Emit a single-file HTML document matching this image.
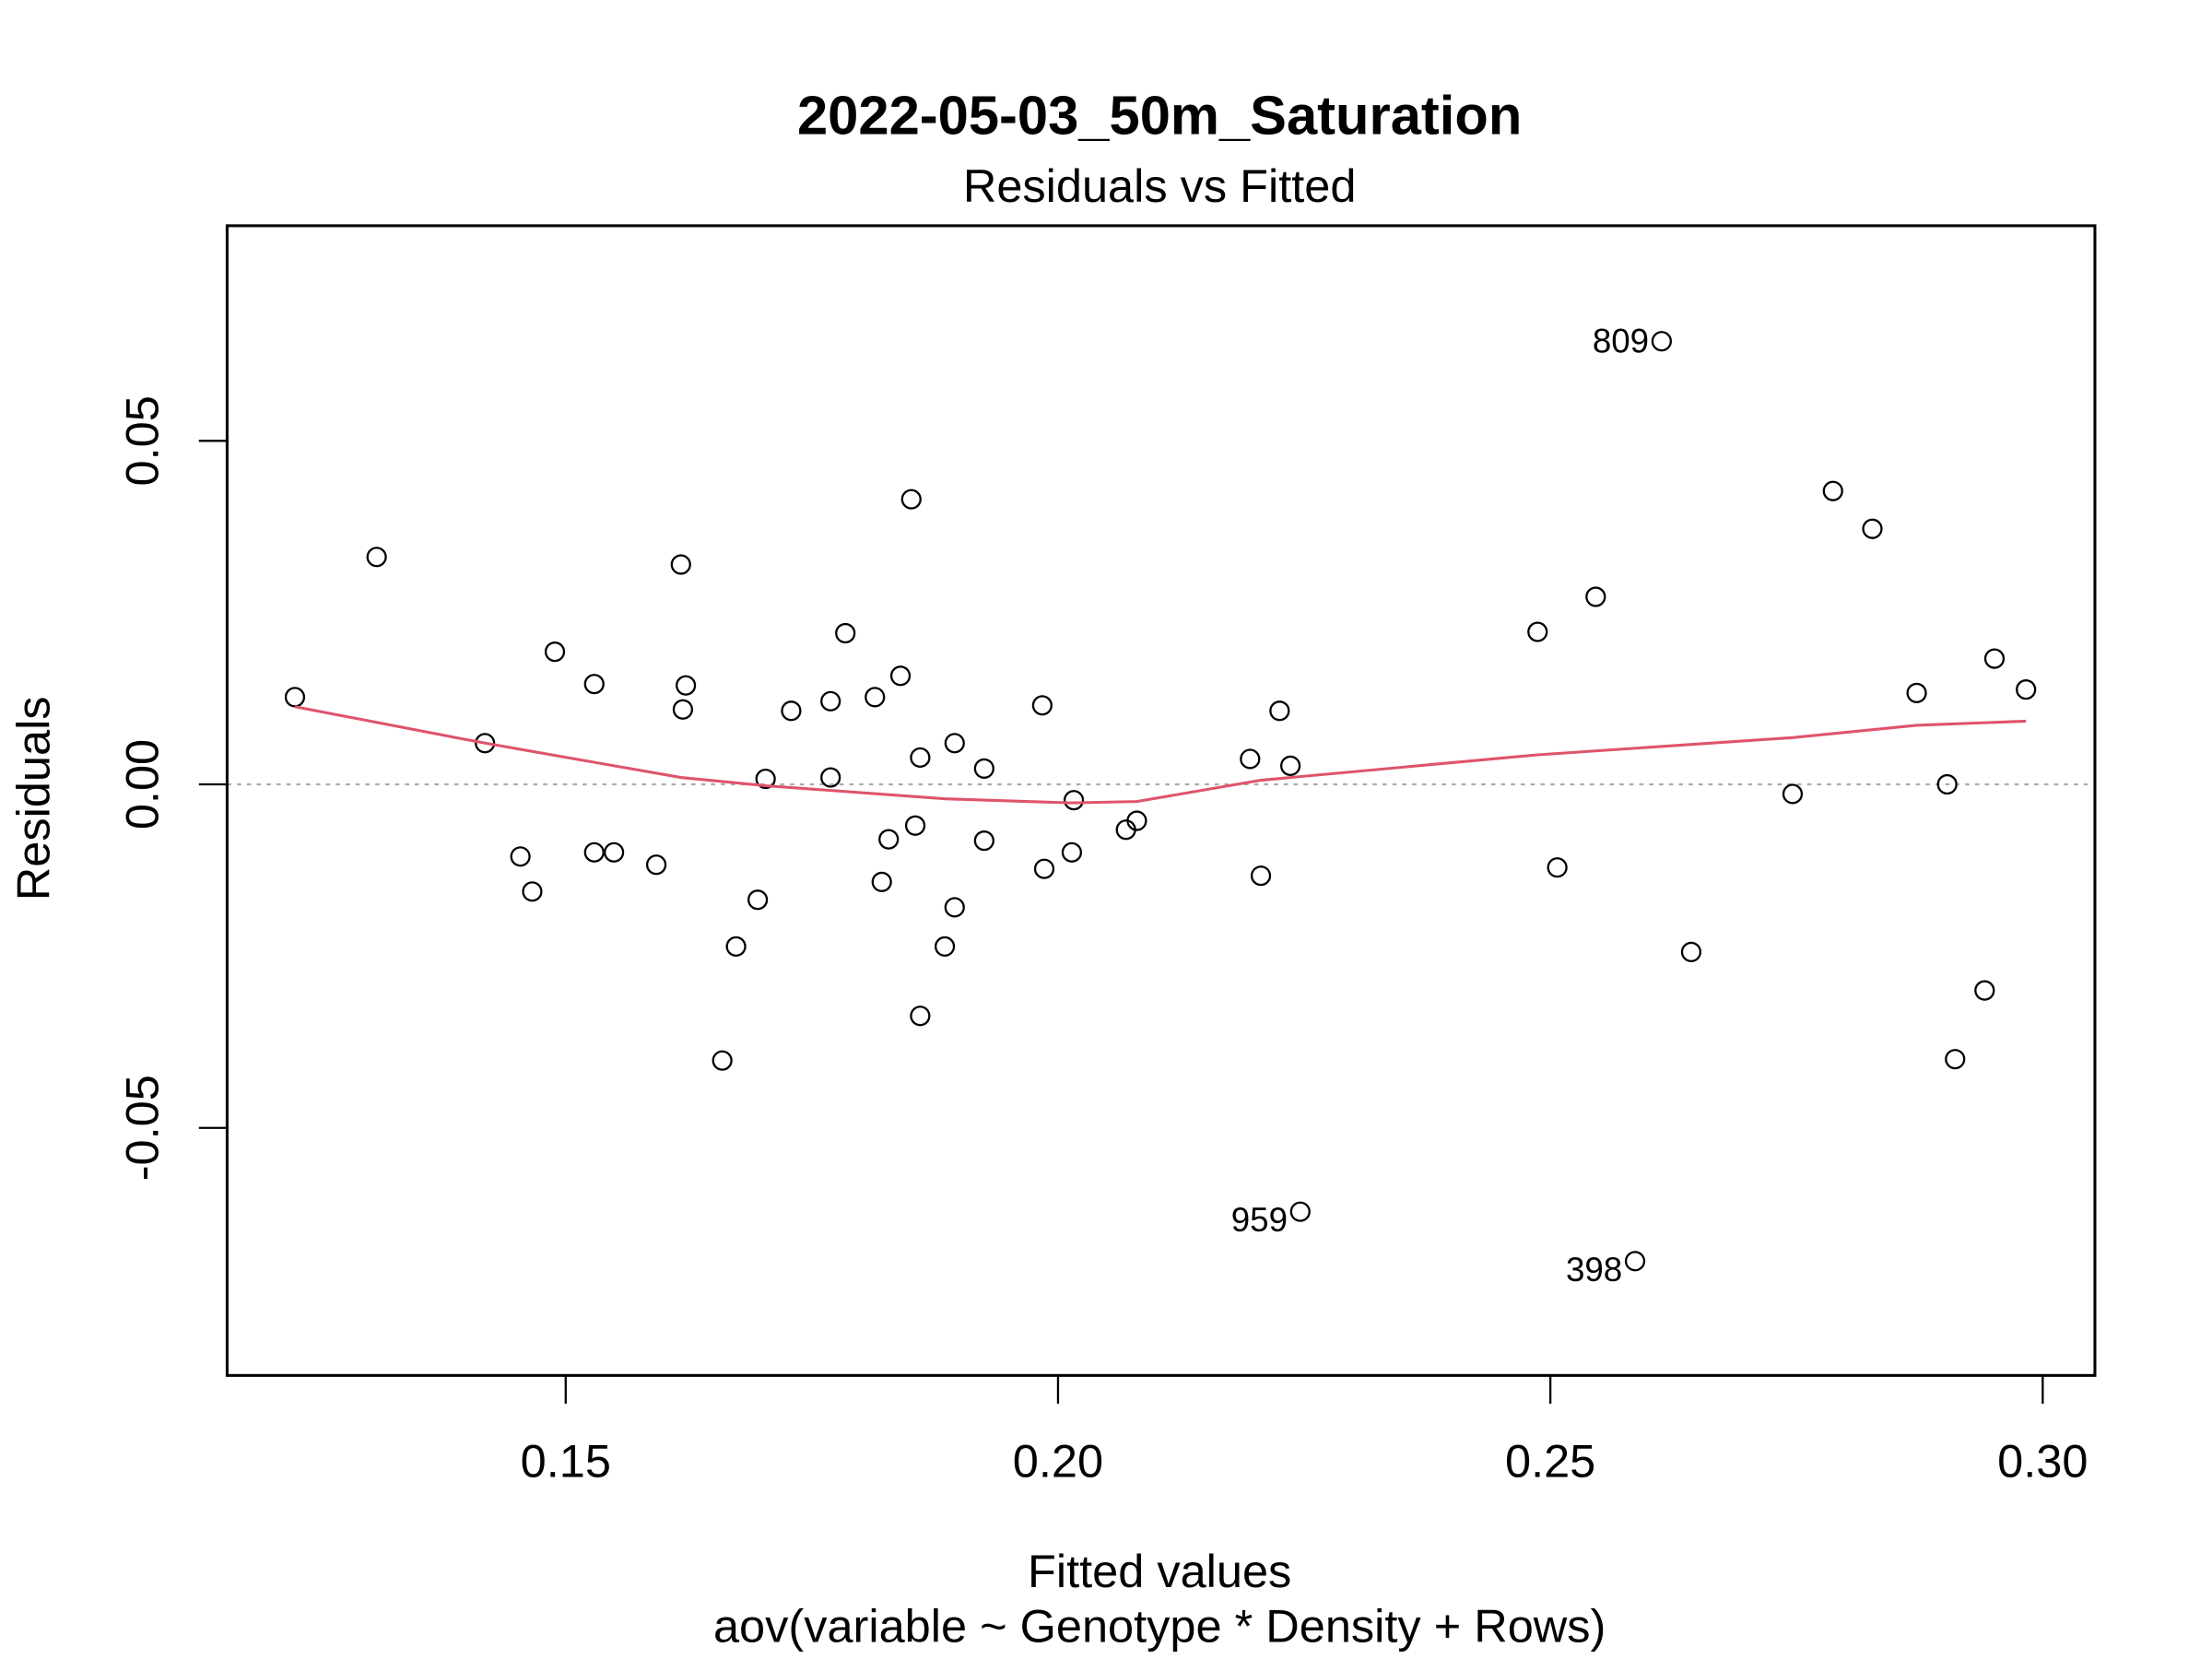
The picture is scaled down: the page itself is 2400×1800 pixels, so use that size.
<!DOCTYPE html>
<html><head><meta charset="utf-8"><style>html,body{margin:0;padding:0;background:#fff}svg{display:block}</style></head>
<body>
<svg id="chart" width="2400" height="1800" viewBox="0 0 1568 1176" preserveAspectRatio="none" xmlns="http://www.w3.org/2000/svg" font-family="'Liberation Sans', Arial, sans-serif">
<rect width="1568" height="1176" fill="#fff"/>
<text x="822" y="95" text-anchor="middle" font-size="39" font-weight="bold">2022-05-03_50m_Saturation</text>
<text x="822" y="143" text-anchor="middle" font-size="33">Residuals vs Fitted</text>
<text x="822" y="1125" text-anchor="middle" font-size="33">Fitted values</text>
<text x="822" y="1164" text-anchor="middle" font-size="33">aov(variable ~ Genotype * Density + Rows)</text>
<text transform="translate(35,566) rotate(-90)" text-anchor="middle" font-size="33">Residuals</text>
<g id="plot"></g>
<rect x="161" y="160" width="1324" height="815" fill="none" stroke="#000" stroke-width="2"/>
</svg>
<script>
const xTicks = [0.15, 0.20, 0.25, 0.30];
const xTickLabels = ["0.15", "0.20", "0.25", "0.30"];
const yTicks = [-0.05, 0.00, 0.05];
const yTickLabels = ["-0.05", "0.00", "0.05"];
const fittedValues = [0.1225,0.1308,0.1418,0.1454,0.1466,0.1489,0.1529,0.1529,0.1549,0.1592,0.1617,0.1622,0.1619,0.1659,0.1673,0.1695,0.1703,0.1729,0.1769,0.1769,0.1784,0.1814,0.1821,0.1828,0.1840,0.1851,0.1855,0.1860,0.1860,0.1885,0.1895,0.1895,0.1925,0.1925,0.1984,0.1986,0.2014,0.2016,0.2069,0.2080,0.2195,0.2206,0.2225,0.2236,0.2246,0.2487,0.2507,0.2546,0.2586,0.2613,0.2643,0.2746,0.2787,0.2827,0.2872,0.2903,0.2911,0.2941,0.2951,0.2983];
const residuals = [0.0127,0.0331,0.0060,-0.0105,-0.0156,0.0193,0.0146,-0.0099,-0.0099,-0.0117,0.0320,0.0144,0.0109,-0.0402,-0.0236,-0.0168,0.0008,0.0107,0.0121,0.0010,0.0220,0.0127,-0.0142,-0.0080,0.0158,0.0415,-0.0060,0.0039,-0.0337,-0.0236,0.0060,-0.0179,0.0023,-0.0082,0.0115,-0.0123,-0.0099,-0.0023,-0.0066,-0.0053,0.0037,-0.0133,0.0107,0.0027,-0.0622,0.0222,-0.0121,0.0273,-0.0694,0.0645,-0.0244,-0.0014,0.0427,0.0372,0.0133,0.0000,-0.0400,-0.0300,0.0183,0.0138];
const pointLabels = ["959", "398", "809"];
const labelIndex = [44, 48, 49];
const smoothX = [0.1225,0.1418,0.1617,0.1703,0.1885,0.2014,0.2080,0.2206,0.2487,0.2746,0.2872,0.2983];
const smoothY = [0.0113,0.0060,0.0010,-0.0002,-0.0021,-0.0027,-0.0025,0.0006,0.0043,0.0068,0.0086,0.0092];

const NS = "http://www.w3.org/2000/svg";
function xs(v){ return 401 + (v - 0.15) * 6980; }
function ys(v){ return 556 - v * 4870; }
const g = document.getElementById('plot');
function mk(tag, attrs){ const e = document.createElementNS(NS, tag); for (const k in attrs) e.setAttribute(k, attrs[k]); return e; }

xTicks.forEach((t, i) => {
  const l = mk('line', {x1: xs(t), x2: xs(t), y1: 975, y2: 995, stroke: '#000', 'stroke-width': 1.5});
  
  
  g.appendChild(l);
  const tx = mk('text', {x: xs(t), y: 1047, 'text-anchor': 'middle', 'font-size': 33});
  
  
  tx.textContent = xTickLabels[i];
  g.appendChild(tx);
});
yTicks.forEach((t, i) => {
  const l = mk('line', {x1: 141, x2: 161, y1: ys(t), y2: ys(t), stroke: '#000', 'stroke-width': 1.5});
  
  
  g.appendChild(l);
  const tx = mk('text', {transform: `translate(112,${ys(t)}) rotate(-90)`, 'text-anchor': 'middle', 'font-size': 33});
  
  
  tx.textContent = yTickLabels[i];
  g.appendChild(tx);
});
const zl = mk('line', {x1: 161, x2: 1485, y1: ys(0), y2: ys(0), stroke: '#aaa', 'stroke-width': 1.5, 'stroke-dasharray': '3,4'});


g.appendChild(zl);

fittedValues.forEach((v, i) => {
  const c = mk('circle', {cx: xs(v), cy: ys(residuals[i]), r: 6.5, fill: 'none', stroke: '#000', 'stroke-width': 1.5});
  
  
  g.appendChild(c);
});
labelIndex.forEach((idx, i) => {
  const tx = mk('text', {x: xs(fittedValues[idx]) - 9, y: ys(residuals[idx]) + 14, 'text-anchor': 'end', 'font-size': 24});
  if (idx === 49) tx.setAttribute('y', ys(residuals[idx]) + 8);
  
  
  tx.textContent = pointLabels[i];
  g.appendChild(tx);
});
const sm = mk('polyline', {points: smoothX.map((x, i) => xs(x) + ',' + ys(smoothY[i])).join(' '), fill: 'none', stroke: '#DF536B', 'stroke-width': 2});


g.appendChild(sm);
</script>
</body></html>
